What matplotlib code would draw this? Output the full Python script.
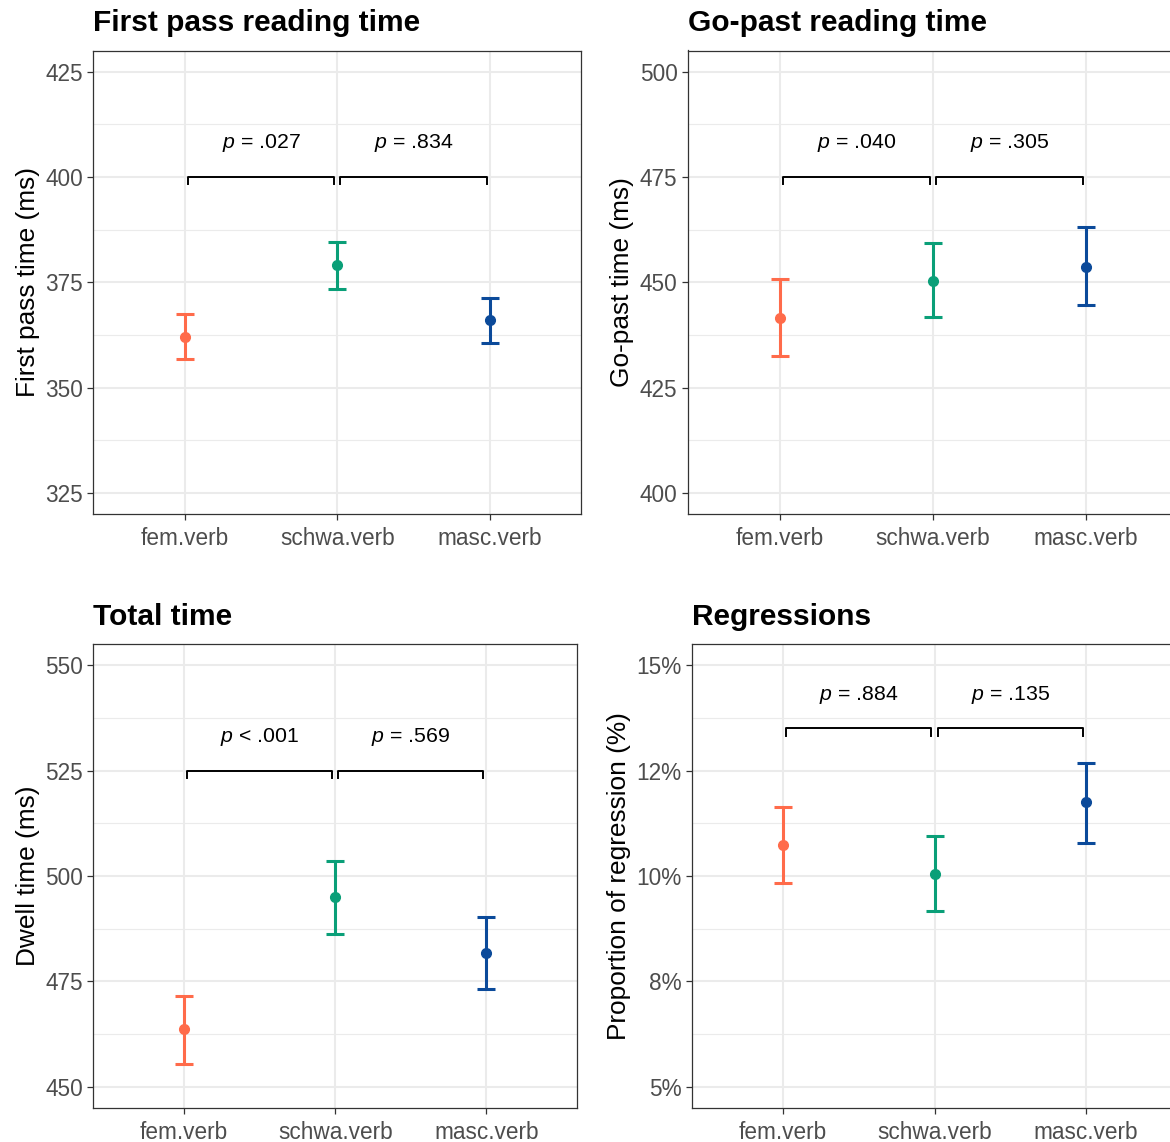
import numpy as np
import matplotlib.pyplot as plt

plt.rcParams['font.family'] = ['Liberation Sans', 'DejaVu Sans']
plt.rcParams['mathtext.fontset'] = 'custom'
plt.rcParams['mathtext.it'] = 'Liberation Sans:italic'
plt.rcParams['mathtext.rm'] = 'Liberation Sans'

# conditions and colours
conditions = ['fem.verb', 'schwa.verb', 'masc.verb']
colors = ['#FF6B4A', '#0A9F78', '#0B4A9A']

titles = ['First pass reading time', 'Go-past reading time', 'Total time', 'Regressions']
ylabels = ['First pass time (ms)', 'Go-past time (ms)', 'Dwell time (ms)', 'Proportion of regression (%)']

# means and CI bounds
fp_mean = [361.9, 379.0, 366.0]
fp_lo = [356.7, 373.3, 360.5]
fp_hi = [367.4, 384.6, 371.2]

gp_mean = [441.4, 450.4, 453.7]
gp_lo = [432.4, 441.7, 444.5]
gp_hi = [450.7, 459.4, 463.2]

tt_mean = [463.7, 495.0, 481.8]
tt_lo = [455.5, 486.3, 473.2]
tt_hi = [471.6, 503.6, 490.3]

reg_mean = [0.1073, 0.1005, 0.1175]
reg_lo = [0.0983, 0.0917, 0.1078]
reg_hi = [0.1163, 0.1095, 0.1267]

# y breaks and labels
fp_ticks = [325, 350, 375, 400, 425]
gp_ticks = [400, 425, 450, 475, 500]
tt_ticks = [450, 475, 500, 525, 550]
reg_ticks = [0.05, 0.075, 0.10, 0.125, 0.15]
reg_ticklabels = ['5%', '8%', '10%', '12%', '15%']

# significance brackets (height) and p labels
sig_y = [400, 475, 525, 0.135]
p_labels = [['$p$ = .027', '$p$ = .834'],
            ['$p$ = .040', '$p$ = .305'],
            ['$p$ < .001', '$p$ = .569'],
            ['$p$ = .884', '$p$ = .135']]

means = [fp_mean, gp_mean, tt_mean, reg_mean]
lows = [fp_lo, gp_lo, tt_lo, reg_lo]
highs = [fp_hi, gp_hi, tt_hi, reg_hi]
ticks = [fp_ticks, gp_ticks, tt_ticks, reg_ticks]
ticklabels = [[str(t) for t in fp_ticks], [str(t) for t in gp_ticks],
              [str(t) for t in tt_ticks], reg_ticklabels]

W, H = 1170, 1142
fig = plt.figure(figsize=(W / 100, H / 100), dpi=100)

# axes boxes in pixels: left, top, right, bottom
boxes = [(93.5, 50.5, 581, 514),
         (688, 50.5, 1177.5, 514),
         (93.5, 644, 577, 1108),
         (692, 644, 1177, 1108)]

x = np.arange(1, 4)
for i in range(4):
    l, t, r, b = boxes[i]
    ax = fig.add_axes([l / W, 1 - b / H, (r - l) / W, (b - t) / H])

    tk = np.array(ticks[i], dtype=float)
    span = tk[-1] - tk[0]
    ax.set_xlim(0.4, 3.6)
    ax.set_ylim(tk[0] - 0.05 * span, tk[-1] + 0.05 * span)
    ax.set_yticks(tk)
    ax.set_yticklabels(ticklabels[i])
    ax.set_yticks((tk[:-1] + tk[1:]) / 2, minor=True)
    ax.set_xticks(x)
    ax.set_xticklabels(conditions)

    ax.grid(which='major', color='#EBEBEB', lw=1.5)
    ax.grid(which='minor', axis='y', color='#EBEBEB', lw=0.8)
    ax.set_axisbelow(True)
    for s in ax.spines.values():
        s.set_color('#333333')
        s.set_linewidth(0.9)
    ax.tick_params(which='major', length=4.5, width=0.9, color='#333333',
                   labelsize=16.3, labelcolor='#4D4D4D', pad=3)
    ax.tick_params(axis='x', which='major', pad=5)
    ax.tick_params(which='minor', length=0)

    m = np.array(means[i])
    lo = np.array(lows[i])
    hi = np.array(highs[i])
    for j in range(3):
        ax.errorbar(x[j], m[j], yerr=[[m[j] - lo[j]], [hi[j] - m[j]]],
                    fmt='o', color=colors[j], ms=7, elinewidth=2.2,
                    capsize=6.5, capthick=2.2, zorder=3)

    # brackets with p values
    y0 = sig_y[i]
    tip = 0.017 * span
    for k, (x1, x2) in enumerate([(1.02, 1.98), (2.02, 2.98)]):
        ax.plot([x1, x1, x2, x2], [y0 - tip, y0, y0, y0 - tip], color='black', lw=1.4,
                zorder=3)
        ax.text((x1 + x2) / 2, y0 + 0.08 * span, p_labels[i][k], ha='center', va='center',
                fontsize=15.3, color='black')

    ax.set_title(titles[i], loc='left', fontsize=21.5, fontweight='bold', pad=14)
    ax.set_ylabel(ylabels[i], fontsize=18.9, labelpad=4)

fig.savefig('out.png', dpi=100)
